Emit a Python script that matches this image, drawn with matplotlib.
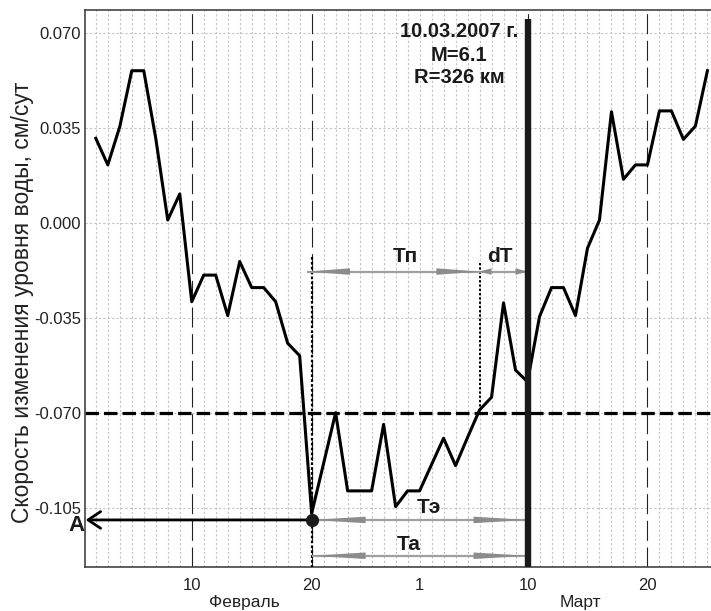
import matplotlib
matplotlib.use('Agg')
import matplotlib.pyplot as plt
from matplotlib.transforms import blended_transform_factory

plt.rcParams['font.family'] = ['Liberation Sans', 'DejaVu Sans']

# скорость изменения уровня воды по дням (1 = 1 февраля 2007, 29 = 1 марта)
days = list(range(2, 54))
rate = [0.0312, 0.0214, 0.0355, 0.0561, 0.0561, 0.0312, 0.0011, 0.0107,
        -0.0290, -0.0192, -0.0192, -0.0341, -0.0142, -0.0238, -0.0238,
        -0.0290, -0.0443, -0.0489, -0.1070, -0.0885, -0.0699, -0.0987,
        -0.0987, -0.0987, -0.0742, -0.1045, -0.0987, -0.0987, -0.0890,
        -0.0793, -0.0894, -0.0790, -0.0689, -0.0642, -0.0294, -0.0542,
        -0.0585, -0.0345, -0.0238, -0.0238, -0.0341, -0.0093, 0.0011,
        0.0410, 0.0161, 0.0214, 0.0214, 0.0413, 0.0413, 0.0308, 0.0357,
        0.0561]

yticks = [-0.105, -0.070, -0.035, 0.000, 0.035, 0.070]
xticks = [10, 20, 29, 38, 48]
xlabels = ['10', '20', '1', '10', '20']
months = ['Февраль', 'Март']
month_pos = [14.4, 42.4]

threshold = -0.070
quake_day = 38
start_day = 20
cross_day = 34
a_level = -0.1094
quake_text = ['10.03.2007 г.', 'M=6.1', 'R=326 км']

fig = plt.figure(figsize=(7.11, 6.11), dpi=100)
ax = fig.add_axes([85 / 711, 43.7 / 611, 626 / 711, 557.3 / 611])
ax.set_xlim(1.1, 53.3)
ax.set_ylim(-0.12685, 0.07847)

# сетка
for d in range(2, 54):
    if d in (10, 20, 38, 48):
        continue
    ax.axvline(d, color='#c4c4c4', lw=0.8, ls=(0, (2, 2)), zorder=0)
for y in yticks:
    ax.axhline(y, color='#c4c4c4', lw=0.8, ls=(0, (2, 2)), zorder=0)
for d in (10, 20, 38, 48):
    ax.axvline(d, color='#222222', lw=0.8, ls=(0, (18, 6)), zorder=1)

ax.axhline(threshold, color='black', lw=2.3, ls=(0, (4.2, 1.6)), zorder=2)

ax.plot(days, rate, color='black', lw=2.2, zorder=4)

# момент землетрясения
ax.plot([quake_day, quake_day], [-0.13, 0.0752], color='#1a1a1a', lw=4.6,
        solid_capstyle='butt', zorder=5)
ax.plot([start_day, start_day], [-0.0124, -0.13], color='black', lw=1.6,
        ls=(0, (1.2, 1.0)), zorder=3)
ax.plot([cross_day, cross_day], [-0.0147, threshold + 0.0008], color='black',
        lw=1.4, ls=(0, (1.2, 1.0)), zorder=3)

qx = [32.3, 32.3, 32.3]
qy = [0.06842, 0.0598, 0.05147]
for s, x, y in zip(quake_text, qx, qy):
    ax.text(x, y, s, ha='center', va='baseline', fontsize=14.5,
            fontweight='bold', color='#1a1a1a', zorder=6)


def span(x0, x1, y):
    # двусторонняя серая стрелка, наконечники ~1/4 длины
    hl = 0.25 * (x1 - x0)
    hw = 0.0012
    ax.plot([x0, x1], [y, y], color='#a0a0a0', lw=1.6, zorder=4,
            solid_capstyle='butt')
    ax.fill([x0, x0 + hl, x0 + hl], [y, y + hw, y - hw], color='#8c8c8c',
            lw=0, zorder=4)
    ax.fill([x1, x1 - hl, x1 - hl], [y, y + hw, y - hw], color='#8c8c8c',
            lw=0, zorder=4)


span(start_day - 0.4, cross_day, -0.0179)
span(cross_day, quake_day, -0.0179)
span(start_day, quake_day, a_level)
span(start_day, quake_day, -0.1226)

labels = ['Тп', 'dT', 'Тэ', 'Та']
lx = [27.8, 35.7, 29.8, 28.1]
ly = [-0.01426, -0.01426, -0.1070, -0.1205]
for s, x, y in zip(labels, lx, ly):
    ax.text(x, y, s, ha='center', va='baseline', fontsize=15,
            fontweight='bold', color='#1a1a1a', zorder=6)

# точка А
ax.annotate('', xy=(1.15, a_level), xytext=(start_day, a_level),
            arrowprops=dict(arrowstyle='->,head_length=0.75,head_width=0.5',
                            color='black', lw=2.0, shrinkA=0, shrinkB=0,
                            mutation_scale=12),
            zorder=5, annotation_clip=False)
ax.plot([start_day], [a_level], 'o', color='#1a1a1a', ms=8.5, zorder=7)
ax.text(0.375, -0.1133, 'A', ha='center', va='baseline', fontsize=16,
        fontweight='bold', color='#1a1a1a', clip_on=False, zorder=7)

ax.set_xticks(xticks)
ax.set_xticklabels(xlabels)
ax.set_yticks(yticks)
ax.set_yticklabels(['%.3f' % v for v in yticks])
ax.tick_params(axis='both', length=0, labelsize=12, colors='#222222')
ax.tick_params(axis='x', pad=8)
ax.tick_params(axis='y', pad=3)

trans = blended_transform_factory(ax.transData, ax.transAxes)
for m, x in zip(months, month_pos):
    ax.text(x, -0.0623, m, transform=trans, ha='center', va='center',
            fontsize=12.5, color='#222222')

ax.set_ylabel('Скорость изменения уровня воды, см/сут', fontsize=16.5,
              color='#222222')
ax.yaxis.set_label_coords(-0.0815, 0.476)

ax.spines['right'].set_visible(False)
for side in ('left', 'bottom', 'top'):
    ax.spines[side].set_color('#444444')
    ax.spines[side].set_linewidth(1.2)

fig.savefig('out.png', dpi=100)
